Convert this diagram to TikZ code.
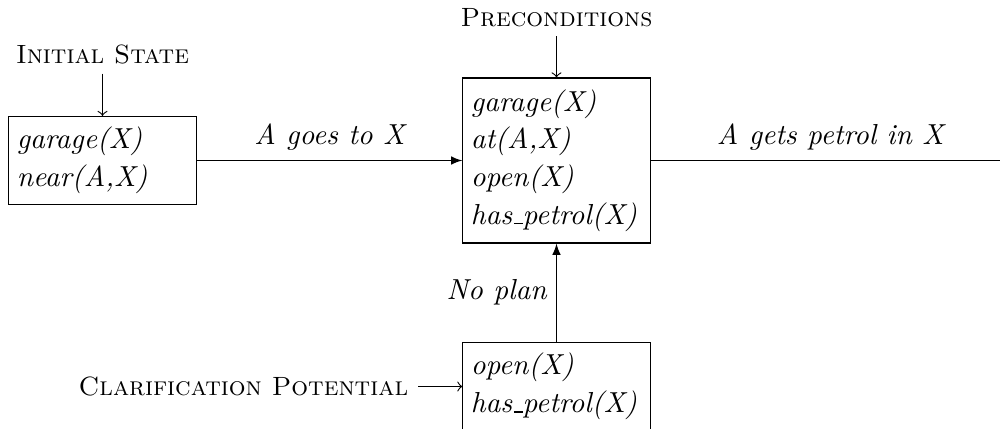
\documentclass[tikz,border=0pt]{standalone}
\newcommand\usc{\leavevmode\kern.06em\vbox{\hrule width.3em}}
\begin{document}
\begin{tikzpicture}[x=0.3559pt,y=-0.3559pt,
  box/.style={draw, font=\itshape\fontsize{10.3}{13.4}\selectfont, align=left,
    text width=61pt, inner xsep=2.8pt, anchor=center},
  lbl/.style={font=\itshape\fontsize{10.3}{12.4}\selectfont},
  sclbl/.style={font=\scshape\fontsize{9.4}{11}\selectfont},
  conn/.style={-latex},
  feed/.style={->}]
\useasboundingbox (0,0) rectangle (1000,429);
\node[box, minimum height=31.3pt] (init) at (102.5,160.5) {garage(X)\\near(A,X)};
\node[box, minimum height=58.7pt] (pre) at (556.5,160.5) {garage(X)\\at(A,X)\\open(X)\\has\usc petrol(X)};
\node[box, minimum height=31.3pt] (clar) at (556.5,386.5) {open(X)\\has\usc petrol(X)};
\node[sclbl, anchor=base] (initlbl) at (102.5,63) {Initial State};
\node[sclbl, anchor=base] (prelbl) at (556.5,26) {Preconditions};
\node[sclbl, anchor=east] (clarlbl) at (418,386.5) {Clarification Potential};
\coordinate (out) at (1010,160.5);
\draw[feed] (initlbl) -- (init);
\draw[feed] (prelbl) -- (pre);
\draw[feed] (clarlbl) -- (clar);
\draw[conn] (init) -- node[lbl, above] {A goes to X} (pre);
\draw (pre) -- node[lbl, above] {A gets petrol in X} (out);
\draw[conn] (clar) -- node[lbl, left] {No plan} (pre);
\end{tikzpicture}
\end{document}
